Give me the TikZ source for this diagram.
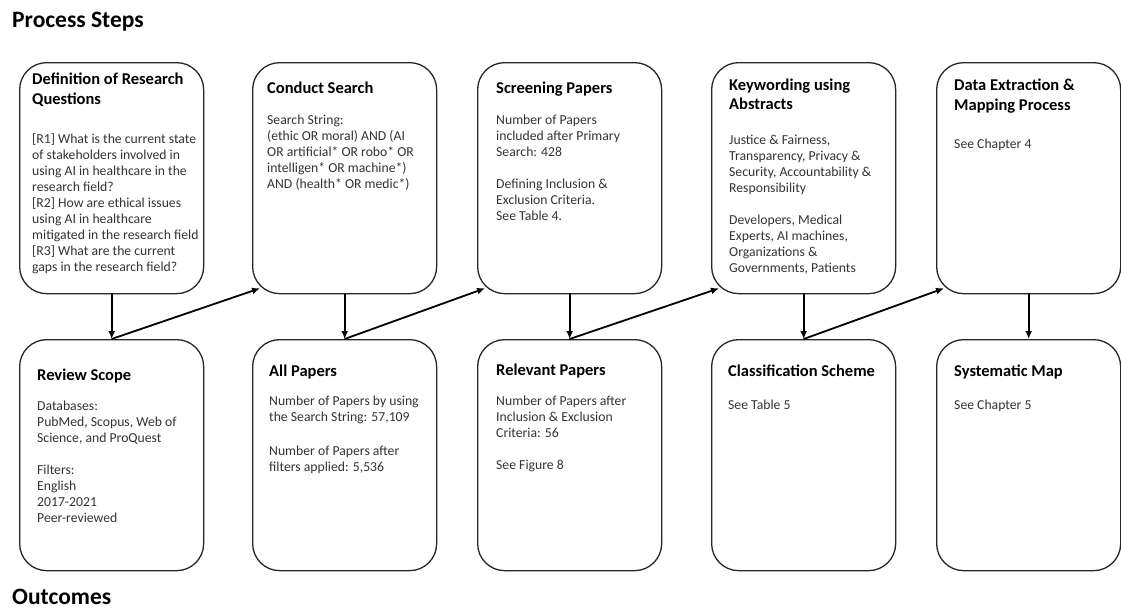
\documentclass[tikz,border=0pt]{standalone}
\usepackage{fontspec}
\setmainfont{Carlito}
\usetikzlibrary{calc,arrows.meta}

\definecolor{bodygray}{HTML}{333333}

% first lines get a fixed strut height, so the node's top lies a known
% distance above the first baseline (15pt for titles, 12pt for body text)
\tikzset{
  stepbox/.style={draw=black!85, line width=1.3pt, rounded corners=27pt,
    minimum width=184pt, minimum height=231pt, inner sep=0pt, anchor=north west},
  boxtitle/.style={anchor=north west, inner sep=0pt, align=left,
    font=\fontsize{16.5}{19.5}\selectfont\bfseries,
    execute at begin node={\rule{0pt}{15pt}}},
  boxbody/.style={anchor=north west, inner sep=0pt, align=left, text=bodygray,
    font=\fontsize{13.7}{16}\selectfont,
    execute at begin node={\rule{0pt}{12pt}}},
  heading/.style={anchor=base west, inner sep=0pt,
    font=\fontsize{23.5}{27}\selectfont\bfseries},
  flow/.style={-{Latex[length=8pt,width=7pt]}, line width=1.8pt}
}

\begin{document}
\begin{tikzpicture}[x=1pt, y=1pt]
\useasboundingbox (0,0) rectangle (1121,-608);

% section headings
\node[heading] (hsteps) at (12,-27) {Process Steps};
\node[heading] (hout) at (12,-604) {Outcomes};

% process steps (top row)
\node[stepbox] (s1) at (19,-62) {};
\node[stepbox] (s2) at (252,-62) {};
\node[stepbox] (s3) at (477,-62) {};
\node[stepbox] (s4) at (711,-62) {};
\node[stepbox] (s5) at (936,-62) {};

% outcomes (bottom row)
\node[stepbox] (o1) at (19,-339) {};
\node[stepbox] (o2) at (252,-339) {};
\node[stepbox] (o3) at (477,-339) {};
\node[stepbox] (o4) at (711,-339) {};
\node[stepbox] (o5) at (936,-339) {};

% step texts (offsets: first baseline minus strut height)
\node[boxtitle] (s1t) at ($(s1.north west)+(13,-11)$) {Definition of Research\\Questions};
\node[boxbody] (s1b) at ($(s1.north west)+(13,-71)$) {{[R1]} What is the current state\\of stakeholders involved in\\using AI in healthcare in the\\research field?\\{[R2]} How are ethical issues\\using AI in healthcare\\mitigated in the research field\\{[R3]} What are the current\\gaps in the research field?};

\node[boxtitle] (s2t) at ($(s2.north west)+(15,-16)$) {Conduct Search};
\node[boxbody] (s2b) at ($(s2.north west)+(15,-53)$) {Search String:\\(ethic OR moral) AND (AI\\OR artificial* OR robo* OR\\intelligen* OR machine*)\\AND (health* OR medic*)};

\node[boxtitle] (s3t) at ($(s3.north west)+(19,-16)$) {Screening Papers};
\node[boxbody] (s3b) at ($(s3.north west)+(19,-53)$) {Number of Papers\\included after Primary\\Search: 428\\[16pt]Defining Inclusion \&\\Exclusion Criteria.\\See Table 4.};

\node[boxtitle] (s4t) at ($(s4.north west)+(18,-16.5)$) {Keywording using\\Abstracts};
\node[boxbody] (s4b) at ($(s4.north west)+(18,-73)$) {Justice \& Fairness,\\Transparency, Privacy \&\\Security, Accountability \&\\Responsibility\\[16pt]Developers, Medical\\Experts, AI machines,\\Organizations \&\\Governments, Patients};

\node[boxtitle] (s5t) at ($(s5.north west)+(18,-17)$) {Data Extraction \&\\Mapping Process};
\node[boxbody] (s5b) at ($(s5.north west)+(18,-74)$) {See Chapter 4};

% outcome texts
\node[boxtitle] (o1t) at ($(o1.north west)+(18,-26)$) {Review Scope};
\node[boxbody] (o1b) at ($(o1.north west)+(18,-62)$) {Databases:\\PubMed, Scopus, Web of\\Science, and ProQuest\\[16pt]Filters:\\English\\2017-2021\\Peer-reviewed};

\node[boxtitle] (o2t) at ($(o2.north west)+(17,-22)$) {All Papers};
\node[boxbody] (o2b) at ($(o2.north west)+(17,-57)$) {Number of Papers by using\\the Search String: 57,109\\[18pt]Number of Papers after\\filters applied: 5,536};

\node[boxtitle] (o3t) at ($(o3.north west)+(19,-21)$) {Relevant Papers};
\node[boxbody] (o3b) at ($(o3.north west)+(19,-57)$) {Number of Papers after\\Inclusion \& Exclusion\\Criteria: 56\\[16pt]See Figure 8};

\node[boxtitle] (o4t) at ($(o4.north west)+(17,-22)$) {Classification Scheme};
\node[boxbody] (o4b) at ($(o4.north west)+(17,-58)$) {See Table 5};

\node[boxtitle] (o5t) at ($(o5.north west)+(18,-22)$) {Systematic Map};
\node[boxbody] (o5b) at ($(o5.north west)+(18,-58)$) {See Chapter 5};

% entry points on the lower-left corners of the next steps
\coordinate (s2in) at ($(s2.south west)+(8,6)$);
\coordinate (s3in) at ($(s3.south west)+(8,6)$);
\coordinate (s4in) at ($(s4.south west)+(8,6)$);
\coordinate (s5in) at ($(s5.south west)+(8,6)$);

% each step yields its outcome
\draw[flow] (s1.south) -- (o1.north);
\draw[flow] (s2.south) -- (o2.north);
\draw[flow] (s3.south) -- (o3.north);
\draw[flow] (s4.south) -- (o4.north);
\draw[flow] (s5.south) -- (o5.north);

% each outcome feeds the next step
\draw[flow] (o1.north) -- (s2in);
\draw[flow] (o2.north) -- (s3in);
\draw[flow] (o3.north) -- (s4in);
\draw[flow] (o4.north) -- (s5in);
\end{tikzpicture}
\end{document}
